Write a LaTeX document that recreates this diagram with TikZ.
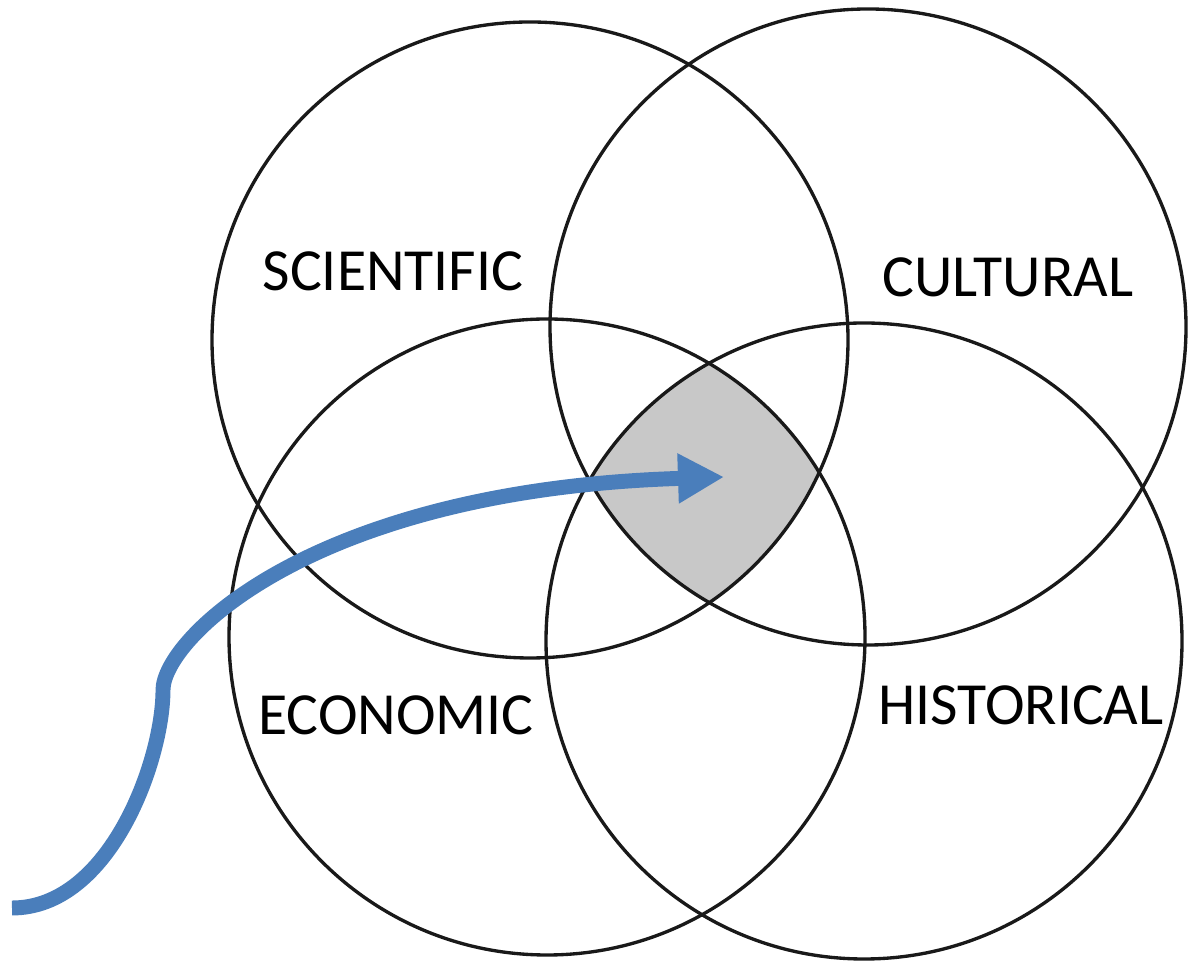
\documentclass[tikz,border=0pt]{standalone}
\usepackage{fontspec}
\setmainfont{Carlito}
\usepackage{tikz}
\usetikzlibrary{arrows.meta}
\definecolor{zonegris}{RGB}{200,200,200}
\definecolor{flechebleu}{RGB}{74,126,187}

\begin{document}
\begin{tikzpicture}[
    cercle/.style={line width=1.9pt, black!90},
    etiquette/.style={anchor=base, font=\fontsize{34}{37}\selectfont},
    fleche/.style={line width=8.5pt, flechebleu, -{Triangle[length=0.92cm, width=0.94cm]}}
  ]
      \useasboundingbox (0,0) rectangle (23.82,19.26);

      \coordinate (SCI) at (10.60,12.46);
      \coordinate (CUL) at (17.36,12.72);
      \coordinate (ECO) at (10.94,6.52);
      \coordinate (HIS) at (17.28,6.44);

      \coordinate (depart) at (0.24,1.10);
      \coordinate (coude) at (3.26,5.46);
      \coordinate (cible) at (14.48,9.72);

      % ZONE COMMUNE
      \begin{scope}
        \clip (SCI) circle (6.36);
        \clip (CUL) circle (6.36);
        \clip (ECO) circle (6.36);
        \fill[zonegris] (HIS) circle (6.36);
      \end{scope}

      % CERCLES
      \draw[cercle] (SCI) circle (6.36);
      \draw[cercle] (CUL) circle (6.36);
      \draw[cercle] (ECO) circle (6.36);
      \draw[cercle] (HIS) circle (6.36);

      % ETIQUETTES
      \node[etiquette] (scientific) at (7.86,13.44) {SCIENTIFIC};
      \node[etiquette] (cultural) at (20.16,13.32) {CULTURAL};
      \node[etiquette] (economic) at (7.92,4.56) {ECONOMIC};
      \node[etiquette] (historical) at (20.42,4.76) {HISTORICAL};

      % FLECHE
      \draw[fleche] (depart) .. controls (2.2,1.10) and (3.26,4.06) .. (coude)
                    .. controls (3.26,6.46) and (6.2,9.46) .. (cible);
\end{tikzpicture}
\end{document}
